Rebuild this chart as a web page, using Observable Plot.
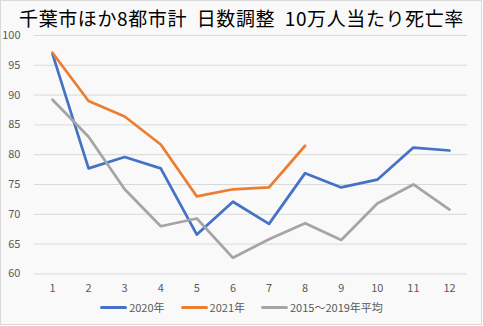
<!DOCTYPE html>
<html>
<head>
<meta charset="utf-8">
<script src="https://cdn.jsdelivr.net/npm/d3@7"></script>
<script src="https://cdn.jsdelivr.net/npm/@observablehq/plot@0.6"></script>
<style>
  html, body { margin: 0; padding: 0; background: #fff; }
  #wrap { position: relative; width: 482px; height: 325px; background: #f9f9f9;
          box-shadow: inset 0 0 0 1px #d9d9d9; overflow: hidden;
          font-family: "Noto Sans CJK JP", "Noto Sans", sans-serif; }
  #plot { position: absolute; left: 0; top: 0; }
  #title { position: absolute; left: 0; width: 483px; top: 4px; text-align: center;
           font-size: 19px; line-height: 28px; color: #000; white-space: pre;
           letter-spacing: 0.6px; font-weight: 400; }
  #legend { position: absolute; left: 0; width: 483px; top: 298px; display: flex;
            justify-content: center; gap: 16px; font-size: 11px; line-height: 18px; color: #595959; }
  .item { display: flex; align-items: center; gap: 2px; }
  .sw { width: 27px; height: 3px; border-radius: 1.5px; }
</style>
</head>
<body>
<div id="wrap">
  <div id="plot"></div>
  <div id="title"></div>
  <div id="legend"></div>
</div>
<script>
const titleText = "千葉市ほか8都市計  日数調整  10万人当たり死亡率";
const months = [1, 2, 3, 4, 5, 6, 7, 8, 9, 10, 11, 12];
const seriesNames = ["2020年", "2021年", "2015～2019年平均"];
const seriesColors = ["#4472C4", "#ED7D31", "#A5A5A5"];
const v2020 = [96.9, 77.7, 79.6, 77.7, 66.6, 72.1, 68.4, 76.9, 74.5, 75.8, 81.2, 80.7];
const v2021 = [97.1, 89.0, 86.4, 81.7, 73.0, 74.2, 74.5, 81.5];
const vAvg  = [89.2, 83.0, 74.2, 68.0, 69.3, 62.7, 65.8, 68.5, 65.7, 71.8, 75.0, 70.8];
const yTicks = [60, 65, 70, 75, 80, 85, 90, 95, 100];

document.getElementById("title").textContent = titleText;

const seriesValues = [v2020, v2021, vAvg];
const data = [];
seriesValues.forEach((vals, si) => {
  vals.forEach((v, i) => data.push({month: months[i], value: v, series: seriesNames[si]}));
});

const chart = Plot.plot({
  width: 483,
  height: 326,
  marginLeft: 34,
  marginRight: 15,
  marginTop: 35,
  marginBottom: 52,
  style: { background: "transparent", fontFamily: "'Noto Sans CJK JP', 'Noto Sans', sans-serif", fontSize: "11px", color: "#595959" },
  x: { domain: [0.5, 12.5] },
  y: { domain: [60, 100] },
  color: { domain: seriesNames, range: seriesColors },
  marks: [
    Plot.ruleY(yTicks, { stroke: "#d9d9d9", strokeWidth: 1 }),
    Plot.axisY({ ticks: yTicks, tickSize: 0, tickPadding: 14, label: null, fill: "#595959" }),
    Plot.axisX({ ticks: months, tickSize: 0, tickPadding: 10, label: null, fill: "#595959", tickFormat: d => String(d) }),
    Plot.line(data, { x: "month", y: "value", z: "series", stroke: "series", strokeWidth: 2.75,
                      strokeLinejoin: "round", strokeLinecap: "round" })
  ]
});
document.getElementById("plot").appendChild(chart);

const legend = document.getElementById("legend");
seriesNames.forEach((name, i) => {
  const item = document.createElement("div");
  item.className = "item";
  const sw = document.createElement("div");
  sw.className = "sw";
  sw.style.background = seriesColors[i];
  const t = document.createElement("span");
  t.textContent = name;
  item.appendChild(sw);
  item.appendChild(t);
  legend.appendChild(item);
});
</script>
</body>
</html>
